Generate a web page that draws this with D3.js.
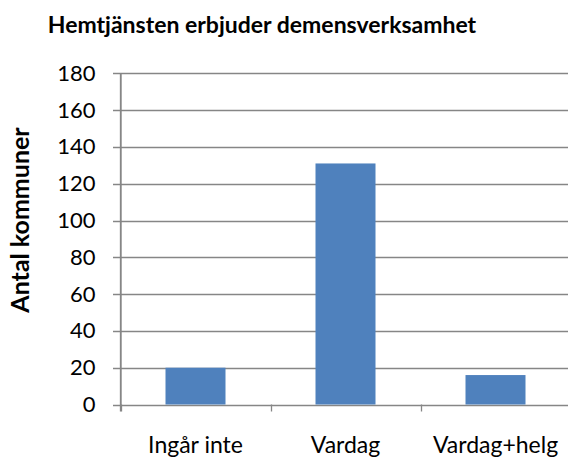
<!DOCTYPE html>
<html><head><meta charset="utf-8">
<script src="https://cdn.jsdelivr.net/npm/d3@7"></script>
<style>body{margin:0;background:#fff}svg{display:block}</style>
</head><body>
<script>
const categories = ["Ingår inte", "Vardag", "Vardag+helg"];
const values = [20, 131, 16];
const yTicks = [0, 20, 40, 60, 80, 100, 120, 140, 160, 180];
const title = "Hemtjänsten erbjuder demensverksamhet";
const yLabel = "Antal kommuner";

const W = 568, H = 461;
const font = "Lato, 'Open Sans', sans-serif";
const svg = d3.select("body").append("svg").attr("width", W).attr("height", H);

const x = d3.scaleBand().domain(categories).range([120.5, 570.5]).paddingInner(0.6).paddingOuter(0.3);
const y = d3.scaleLinear().domain([0, 180]).range([404.5, 73.3]);

// gridlines
svg.append("g").selectAll("line").data(yTicks).join("line")
  .attr("x1", 113).attr("x2", 570)
  .attr("y1", d => Math.round(y(d)) + 0.5).attr("y2", d => Math.round(y(d)) + 0.5)
  .attr("stroke", "#868686").attr("stroke-width", 1.3);

// bars
svg.append("g").selectAll("rect").data(values).join("rect")
  .attr("x", (d, i) => x(categories[i]))
  .attr("width", x.bandwidth())
  .attr("y", d => y(d))
  .attr("height", d => y(0) - y(d))
  .attr("fill", "#4F81BD");

// y axis
const yAxis = svg.append("g").attr("transform", "translate(120.5,0)")
  .call(d3.axisLeft(y).tickValues(yTicks).tickSize(0).tickPadding(25));
yAxis.select(".domain").attr("stroke", "#868686").attr("stroke-width", 1.3);
yAxis.selectAll("text").attr("font-family", font).attr("font-size", 22).attr("fill", "#000");

// x axis
const xAxis = svg.append("g").attr("transform", `translate(0,${Math.round(y(0)) + 0.5})`)
  .call(d3.axisBottom(x).tickSize(0));
xAxis.select(".domain").remove();
xAxis.selectAll("text").attr("font-family", font).attr("font-size", 23).attr("fill", "#000")
  .attr("y", 47).attr("dy", 0);
const boundaries = [0, 1, 2, 3].map(i => 120.5 + i * x.step());
svg.append("g").selectAll("line").data(boundaries).join("line")
  .attr("x1", d => Math.round(d) + 0.5).attr("x2", d => Math.round(d) + 0.5)
  .attr("y1", y(0)).attr("y2", y(0) + 7)
  .attr("stroke", "#868686").attr("stroke-width", 1.3);
svg.append("line").attr("x1", 120.5).attr("x2", 120.5).attr("y1", y(180)).attr("y2", y(0) + 7)
  .attr("stroke", "#868686").attr("stroke-width", 1.3);

svg.append("text").attr("x", 262).attr("y", 33).attr("text-anchor", "middle")
  .attr("font-family", font).attr("font-weight", "bold").attr("font-size", 23).text(title);

svg.append("text").attr("transform", "translate(29,220) rotate(-90)").attr("text-anchor", "middle")
  .attr("font-family", font).attr("font-weight", "bold").attr("font-size", 25).text(yLabel);
</script>
</body></html>
